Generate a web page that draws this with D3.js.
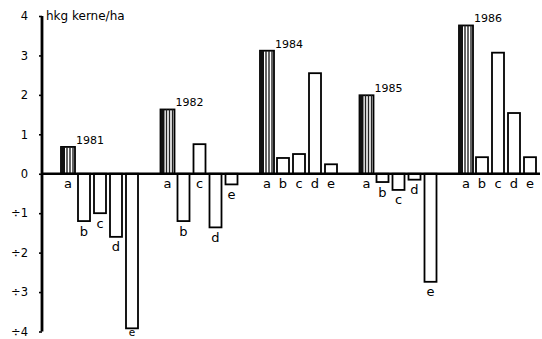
<!DOCTYPE html>
<html><head><meta charset="utf-8">
<script src="https://cdn.jsdelivr.net/npm/d3@7/dist/d3.min.js"></script>
<style>
body{margin:0;background:#fff;}
text{font-family:"DejaVu Sans",sans-serif;fill:#000;}
</style></head>
<body><svg id="c" width="542" height="339"></svg>
<script>
const years = ["1981","1982","1984","1985","1986"];
const cats = ["a","b","c","d","e"];
const v1981 = [0.68, -1.2, -1.0, -1.6, -3.92];
const v1982 = [1.63, -1.2, 0.75, -1.36, -0.27];
const v1984 = [3.12, 0.4, 0.5, 2.55, 0.24];
const v1985 = [1.99, -0.21, -0.41, -0.15, -2.74];
const v1986 = [3.76, 0.42, 3.07, 1.54, 0.42];
const yTicks = [4,3,2,1,0,-1,-2,-3,-4];
const yTickLabels = ["4","3","2","1","0","÷1","÷2","÷3","÷4"];
const unitLabel = "hkg kerne/ha";

const series = [v1981, v1982, v1984, v1985, v1986];
const data = [];
years.forEach((yr, i) => cats.forEach((c, j) => data.push({year: yr, cat: c, value: series[i][j]})));

const svg = d3.select("#c");
const y = d3.scaleLinear().domain([-4, 4]).range([331.5, 16]);
const x0 = d3.scaleBand().domain(years).range([59, 556.5]).padding(0);
const x1 = d3.scaleBand().domain(cats).range([0, 80]).paddingInner(0.25).paddingOuter(0.125);
const bw = x1.bandwidth();

// y axis
const axis = d3.axisLeft(y).tickValues(yTicks).tickSize(3).tickPadding(11)
  .tickFormat((d, i) => yTickLabels[i]);
const gA = svg.append("g").attr("transform", "translate(42,0)").call(axis);
gA.select(".domain").attr("stroke", "#000").attr("stroke-width", 2.8).attr("d", `M0,${y(4)}V${y(-4)}`);
gA.selectAll(".tick line").attr("stroke", "#000").attr("stroke-width", 1.6);
gA.selectAll(".tick text").style("font-size", "11.5px").style("font-family", "DejaVu Sans");

svg.append("text").attr("x", 46).attr("y", 20).style("font-size", "12px").text(unitLabel);

// bars
const bars = svg.append("g");
data.forEach(d => {
  const isA = d.cat === "a";
  const xs = x0(d.year) + x1(d.cat) + (isA ? 0 : 1);
  const w = isA ? bw + 2 : bw;
  const yTop = y(Math.max(0, d.value)), yBot = y(Math.min(0, d.value));
  bars.append("rect").attr("x", xs).attr("y", yTop).attr("width", w).attr("height", yBot - yTop)
    .attr("fill", "#fff").attr("stroke", "#000").attr("stroke-width", 1.8);
  if (isA) {
    bars.append("rect").attr("x", xs).attr("y", yTop).attr("width", 4).attr("height", yBot - yTop).attr("fill", "#111");
    [6, 9, 12].forEach(o => bars.append("line").attr("x1", xs + o).attr("x2", xs + o)
      .attr("y1", yTop).attr("y2", yBot).attr("stroke", "#222").attr("stroke-width", 1.4));
    svg.append("text").attr("x", xs + 15).attr("y", yTop - 3).style("font-size", "11px").text(d.year);
  }
  const near = yBot + 14.5 > 335;
  svg.append("text").attr("x", xs + w / 2).attr("y", near ? 336.2 : yBot + 14.5).attr("text-anchor", "middle")
    .style("font-size", near ? "10.5px" : "13px").text(d.cat);
});

// zero line
svg.append("line").attr("x1", 42).attr("x2", 540).attr("y1", y(0)).attr("y2", y(0))
  .attr("stroke", "#000").attr("stroke-width", 2.4);
</script></body></html>
